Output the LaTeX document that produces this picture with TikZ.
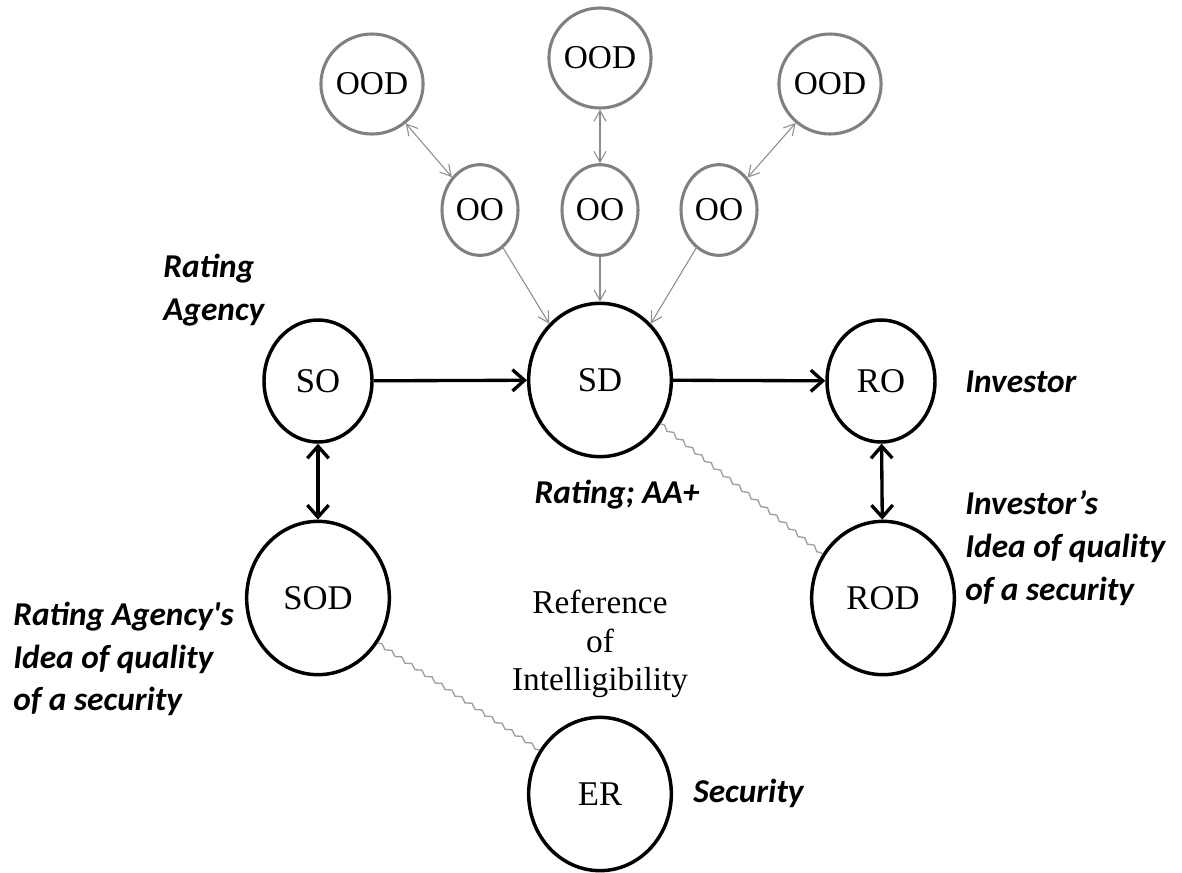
\documentclass[tikz,border=0pt]{standalone}
\usepackage{fontspec}
\setmainfont{Liberation Serif}
\newfontfamily\labelfont{Carlito}
\usetikzlibrary{shapes.geometric,arrows.meta,decorations.pathmorphing}

\begin{document}
\begin{tikzpicture}[x=0.75pt,y=-0.75pt,
  actor/.style={ellipse,draw=black,line width=2.6pt,inner sep=0pt,
    minimum width=81pt,minimum height=91.5pt,font=\fontsize{26}{30}\selectfont},
  idea/.style={actor,minimum width=107pt,minimum height=115pt},
  other/.style={ellipse,draw=gray,line width=2.3pt,inner sep=0pt,
    minimum width=57pt,minimum height=68pt,font=\fontsize{25}{30}\selectfont},
  otheridea/.style={other,minimum width=65pt,minimum height=75pt},
  flow/.style={-{Straight Barb[length=9pt,width=16pt]},line width=2.5pt},
  mutual/.style={{Straight Barb[length=9pt,width=16pt]}-{Straight Barb[length=9pt,width=16pt]},line width=2.5pt},
  feed/.style={-{Straight Barb[length=8pt,width=9pt]},draw=black!45,line width=0.8pt},
  relay/.style={{Straight Barb[length=8pt,width=9pt]}-{Straight Barb[length=8pt,width=9pt]},draw=black!45,line width=0.8pt},
  drift/.style={draw=black!38,line width=1pt,decorate,
    decoration={snake,amplitude=1.3pt,segment length=9pt}},
  note/.style={font=\labelfont\bfseries\itshape\fontsize{25}{32}\selectfont,align=left,inner sep=0pt},
  plain/.style={font=\fontsize{25}{29}\selectfont,align=center,inner sep=0pt}
]
  \useasboundingbox (0,0) rectangle (1182,872);
  % main chain
  \node[actor] (so) at (318,381) {SO};
  \node[idea] (sd) at (600,380) {SD};
  \node[actor] (ro) at (881,381) {RO};
  \node[idea] (sod) at (318,598) {SOD};
  \node[idea] (rod) at (883,598) {ROD};
  \node[idea] (er) at (600,794) {ER};
  \draw[flow] (so) -- (sd);
  \draw[flow] (sd) -- (ro);
  \draw[mutual] (so) -- (sod);
  \draw[mutual] (ro) -- (rod);
  \draw[drift] (sd.-36) -- (rod.144);
  \draw[drift] (sod.-37) -- (er.144);
  % other observers
  \foreach \n/\x/\ox/\oy in {1/480/372/84,2/600/600/58,3/719/830/84} {
    \node[other] (oo\n) at (\x,210) {OO};
    \node[otheridea] (ood\n) at (\ox,\oy) {OOD};
    \draw[relay] (ood\n) -- (oo\n);
  }
  \draw[feed] (oo1) -- (sd.132);
  \draw[feed] (oo2) -- (sd.north);
  \draw[feed] (oo3) -- (sd.48);
  % labels
  \node[note,anchor=west] (agency) at (163,290) {Rating\\Agency};
  \node[note,anchor=west] (investor) at (965,382) {Investor};
  \node[note] (rating) at (617,495) {Rating; AA+};
  \node[note,anchor=west] (agencyidea) at (13,659) {Rating Agency's\\Idea of quality\\of a security};
  \node[note,anchor=west] (investoridea) at (965,548) {Investor’s\\Idea of quality\\of a security};
  \node[note,anchor=west] (security) at (693,793) {Security};
  \node[plain] (reference) at (600,644) {Reference\\of\\Intelligibility};
\end{tikzpicture}
\end{document}
